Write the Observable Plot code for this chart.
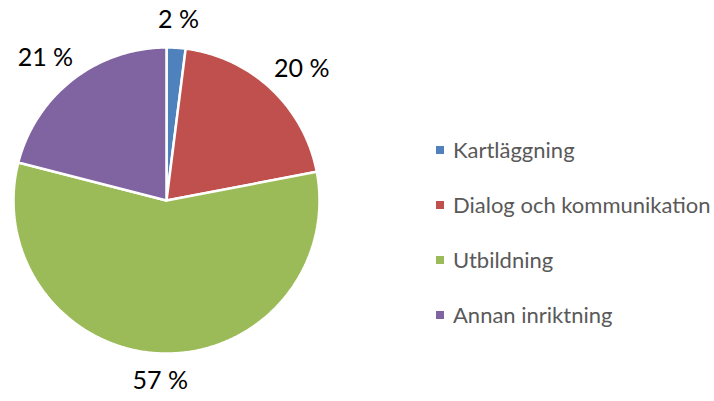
<!DOCTYPE html>
<html>
<head>
<meta charset="utf-8">
<script src="https://cdn.jsdelivr.net/npm/d3@7"></script>
<script src="https://cdn.jsdelivr.net/npm/@observablehq/plot@0.6"></script>
<style>
  body { margin: 0; background: #fff; font-family: Lato, "Open Sans", sans-serif; }
  #wrap { position: relative; width: 714px; height: 401px; }
  #legend { position: absolute; left: 436px; top: 0; }
  .item { position: absolute; white-space: nowrap; display: flex; align-items: center; color: #595959; font-size: 22px; height: 26px; line-height: 26px; }
  .sw { width: 8px; height: 8px; margin-right: 9px; }
</style>
</head>
<body>
<div id="wrap"><div id="legend"></div></div>
<script>
const categories = ["Kartläggning", "Dialog och kommunikation", "Utbildning", "Annan inriktning"];
const values = [2, 20, 57, 21];
const colors = ["#4F81BD", "#C0504D", "#9BBB59", "#8064A2"];

const R = 153; // pie radius in px
const labelFont = "25px Lato";
const ctx = document.createElement("canvas").getContext("2d");
ctx.font = labelFont;

const pie = d3.pie().sort(null).value(d => d.value);
const arcs = pie(categories.map((c, i) => ({cat: c, value: values[i]})));

// polygon vertices for each slice (unit circle, clockwise from 12 o'clock)
const poly = [];
for (const a of arcs) {
  const n = Math.max(2, Math.ceil((a.endAngle - a.startAngle) / 0.01));
  poly.push({cat: a.data.cat, x: 0, y: 0});
  for (let k = 0; k <= n; k++) {
    const t = a.startAngle + (a.endAngle - a.startAngle) * k / n;
    poly.push({cat: a.data.cat, x: Math.sin(t), y: Math.cos(t)});
  }
  poly.push({cat: a.data.cat, x: 0, y: 0});
}
// outside-end labels: anchor just outside the rim, box pushed outward
const labels = arcs.map(a => {
  const m = (a.startAngle + a.endAngle) / 2;
  const text = `${a.data.value} %`;
  const hw = ctx.measureText(text).width / 2 / R, hh = 11 / R;
  const r0 = 1.11;
  return {x: r0 * Math.sin(m) + hw * Math.sin(m), y: r0 * Math.cos(m) + hh * Math.cos(m), text};
});

const chart = Plot.plot({
  width: 714, height: 401,
  marginLeft: 13, marginRight: 395, marginTop: 47, marginBottom: 48,
  x: {domain: [-1, 1], axis: null},
  y: {domain: [-1, 1], axis: null},
  color: {domain: categories, range: colors},
  style: {fontFamily: "Lato, 'Open Sans', sans-serif", background: "white", overflow: "visible"},
  marks: [
    Plot.line(poly, {x: "x", y: "y", z: "cat", fill: "cat", stroke: "white", strokeWidth: 2.5, strokeLinejoin: "miter", curve: "linear"}),
    Plot.text(labels, {x: "x", y: "y", text: "text", fontSize: 25, fill: "black"})
  ]
});
document.getElementById("wrap").prepend(chart);
chart.style.position = "absolute"; chart.style.left = "0"; chart.style.top = "0";

const legend = document.getElementById("legend");
categories.forEach((c, i) => {
  const it = document.createElement("div");
  it.className = "item";
  it.style.top = (137 + i * 55) + "px";
  it.innerHTML = `<span class="sw" style="background:${colors[i]}"></span><span>${c}</span>`;
  legend.appendChild(it);
});
</script>
</body>
</html>
